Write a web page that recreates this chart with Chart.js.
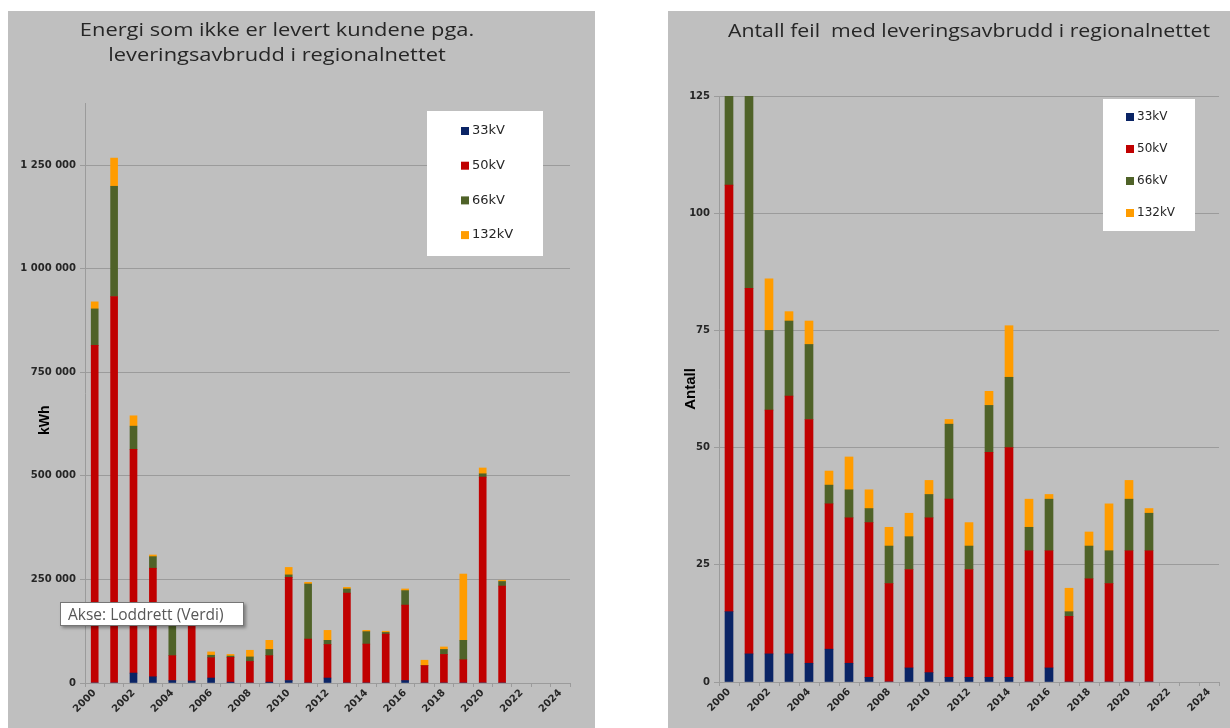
<!DOCTYPE html>
<html lang="no">
<head>
  <meta charset="UTF-8">
  <title>Leveringsavbrudd i regionalnettet</title>
  <script src="https://cdn.jsdelivr.net/npm/chart.js"></script>
  <style>
    * { box-sizing: border-box; }
    body { margin: 0; background: #fff; width: 1230px; height: 728px; overflow: hidden; position: relative; }
    .panel { position: absolute; background: #bfbfbf; }
    .panel canvas { position: absolute; left: 0; top: 0; }
    .title {
      position: absolute; color: #262626; font-family: "Open Sans", sans-serif;
      font-size: 19px; text-align: center; white-space: pre; line-height: 25px;
    }
    #hint {
      position: absolute; left: 60px; top: 602px; width: 184px; height: 24px;
      background: #fff; border: 1px solid #767676; box-shadow: 2px 2px 3px rgba(0,0,0,0.35);
      font-family: "Open Sans", sans-serif; font-size: 15.5px; color: #575757;
      line-height: 22px; padding-left: 7px; white-space: nowrap;
    }
  </style>
</head>
<body>

  <div class="panel" id="leftPanel" style="left:8px; top:11px; width:587px; height:717px;">
    <canvas id="kwhChart"></canvas>
    <div class="title" style="left:269px; top:6px; transform: translateX(-50%) scaleX(1.15);">Energi som ikke er levert kundene pga.
leveringsavbrudd i regionalnettet</div>
  </div>

  <div class="panel" id="rightPanel" style="left:668px; top:11px; width:562px; height:717px;">
    <canvas id="countChart"></canvas>
    <div class="title" style="left:301px; top:7px; transform: translateX(-50%) scaleX(1.12);">Antall feil  med leveringsavbrudd i regionalnettet</div>
  </div>

  <div id="hint">Akse: Loddrett (Verdi)</div>

  <script>
    // years on the category axis, bars only up to 2021
    const years = ['2000','2001','2002','2003','2004','2005','2006','2007','2008','2009','2010','2011','2012',
                   '2013','2014','2015','2016','2017','2018','2019','2020','2021','2022','2023','2024'];
    const levels = ['33kV', '50kV', '66kV', '132kV'];
    const levelColors = ['#0a2465', '#c00000', '#4f6228', '#ff9c00'];

    // ikke levert energi, kWh
    const kwh33  = [0, 0, 24000, 15000, 6000, 5000, 12000, 2000, 0, 2000, 6000, 0, 12000, 0, 0, 0, 6000, 0, 0, 0, 0, 0];
    const kwh50  = [815000, 933000, 540000, 262000, 60000, 140000, 49000, 60000, 52000, 64000, 249000, 106000, 81000,
                    217000, 94000, 118000, 182000, 42000, 69000, 56000, 497000, 234000];
    const kwh66  = [88000, 266000, 56000, 28000, 84000, 0, 6000, 3000, 11000, 15000, 6000, 133000, 10000,
                    10000, 30000, 4000, 35000, 0, 12000, 47000, 8000, 11000];
    const kwh132 = [17000, 68000, 25000, 4000, 0, 0, 8000, 4000, 16000, 22000, 18000, 4000, 24000,
                    4000, 3000, 3000, 4000, 13000, 6000, 160000, 14000, 3000];
    const kwhTicks = [0, 250000, 500000, 750000, 1000000, 1250000];

    // antall feil
    const cnt33  = [15, 6, 6, 6, 4, 7, 4, 1, 0, 3, 2, 1, 1, 1, 1, 0, 3, 0, 0, 0, 0, 0];
    const cnt50  = [91, 78, 52, 55, 52, 31, 31, 33, 21, 21, 33, 38, 23, 48, 49, 28, 25, 14, 22, 21, 28, 28];
    const cnt66  = [30, 50, 17, 16, 16, 4, 6, 3, 8, 7, 5, 16, 5, 10, 15, 5, 11, 1, 7, 7, 11, 8];
    const cnt132 = [0, 0, 11, 2, 5, 3, 7, 4, 4, 5, 3, 1, 5, 3, 11, 6, 1, 5, 3, 10, 4, 1];

    const gridGray = '#9b9b9b';
    const tickFont = { family: 'DejaVu Sans', size: 10, weight: 'bold' };

    function spaced(v) {
      return String(v).replace(/\B(?=(\d{3})+(?!\d))/g, ' ');
    }

    // legend drawn inside the plot on a white box
    const boxLegend = {
      id: 'boxLegend',
      afterDatasetsDraw(chart, args, opts) {
        const ctx = chart.ctx;
        ctx.save();
        ctx.fillStyle = '#fff';
        ctx.fillRect(opts.bx, opts.by, opts.bw, opts.bh);
        ctx.font = opts.fontSize + 'px "DejaVu Sans"';
        ctx.textBaseline = 'middle';
        chart.data.datasets.forEach((ds, i) => {
          const y = opts.y + i * opts.gap;
          ctx.fillStyle = ds.backgroundColor;
          ctx.fillRect(opts.x, y - 4, 8, 8);
          ctx.fillStyle = '#262626';
          ctx.fillText(ds.label, opts.x + 11, y);
        });
        ctx.restore();
      }
    };

    function makeDatasets(series, thickness) {
      return series.map((vals, i) => ({
        label: levels[i],
        data: vals,
        backgroundColor: levelColors[i],
        borderWidth: 0,
        barThickness: thickness,
        stack: 'a'
      }));
    }

    function xAxis(height) {
      return {
        stacked: true,
        grid: { drawOnChartArea: false, drawTicks: true, tickLength: 4, color: gridGray, offset: true },
        border: { color: gridGray },
        ticks: {
          autoSkip: false, minRotation: 45, maxRotation: 45, padding: 0,
          color: '#262626', font: tickFont,
          callback: (v, i) => i % 2 === 0 ? years[i] : ''
        },
        afterFit: s => { s.height = height; }
      };
    }

    new Chart(document.getElementById('kwhChart'), {
      type: 'bar',
      data: { labels: years, datasets: makeDatasets([kwh33, kwh50, kwh66, kwh132], 7) },
      options: {
        responsive: true, maintainAspectRatio: false, animation: false,
        layout: { padding: { left: 0, top: 92, right: 25, bottom: 0 } },
        plugins: {
          legend: { display: false }, tooltip: { enabled: false },
          boxLegend: { bx: 419, by: 100, bw: 116, bh: 145, x: 453, y: 120, gap: 34.7, fontSize: 13 }
        },
        scales: {
          x: xAxis(45),
          y: {
            stacked: true, min: 0, max: 1400000,
            grid: { color: gridGray, tickLength: 5 },
            border: { color: gridGray },
            ticks: { padding: 4, color: '#262626', font: tickFont, callback: v => spaced(v) },
            // the axis top is not a tick, keep only the 250 000 steps
            afterBuildTicks: s => { s.ticks = kwhTicks.map(v => ({ value: v })); },
            title: {
              display: true, text: 'kWh' + '\u00a0'.repeat(14), color: '#000',
              padding: { top: 29, bottom: 0 },
              font: { family: 'Liberation Sans', size: 14, weight: 'bold' }
            },
            afterFit: s => { s.width = 77; }
          }
        }
      },
      plugins: [boxLegend]
    });

    new Chart(document.getElementById('countChart'), {
      type: 'bar',
      data: { labels: years, datasets: makeDatasets([cnt33, cnt50, cnt66, cnt132], 8) },
      options: {
        responsive: true, maintainAspectRatio: false, animation: false,
        layout: { padding: { left: 0, top: 85, right: 11, bottom: 0 } },
        plugins: {
          legend: { display: false }, tooltip: { enabled: false },
          boxLegend: { bx: 435, by: 88, bw: 92, bh: 132, x: 458, y: 106, gap: 32, fontSize: 12 }
        },
        scales: {
          x: xAxis(46),
          y: {
            stacked: true, min: 0, max: 125,
            grid: { color: gridGray, tickLength: 5 },
            border: { color: gridGray },
            ticks: { stepSize: 25, padding: 4, color: '#262626', font: tickFont },
            title: {
              display: true, text: 'Antall', color: '#000',
              padding: { top: 14, bottom: 0 },
              font: { family: 'Liberation Sans', size: 15, weight: 'bold' }
            },
            afterFit: s => { s.width = 51; }
          }
        }
      },
      plugins: [boxLegend]
    });
  </script>
</body>
</html>
